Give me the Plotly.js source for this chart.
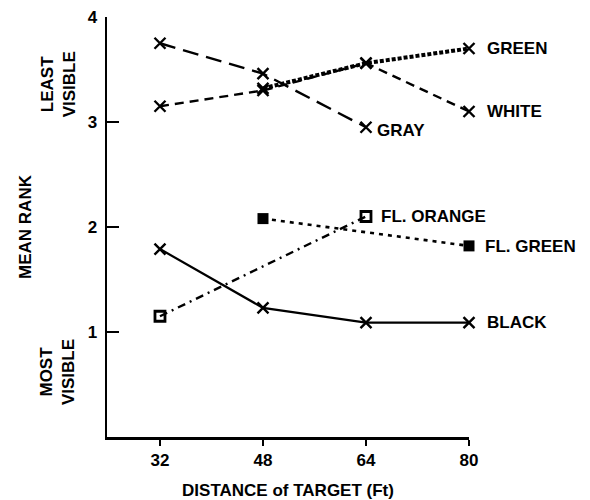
<!DOCTYPE html>
<html><head><meta charset="utf-8">
<script src="https://cdn.plot.ly/plotly-3.0.1.min.js"></script>
<style>html,body{margin:0;padding:0;background:#fff}</style>
</head><body>
<div id="chart" style="width:590px;height:500px"></div>
<script>
const distances = [32, 48, 64, 80];
const grayX = [32, 48, 64];
const grayY = [3.75, 3.46, 2.95];
const whiteX = [32, 48, 64, 80];
const whiteY = [3.15, 3.30, 3.56, 3.10];
const greenX = [48, 64, 80];
const greenY = [3.32, 3.56, 3.70];
const blackX = [32, 48, 64, 80];
const blackY = [1.79, 1.23, 1.09, 1.09];
const orangeX = [32, 64];
const orangeY = [1.15, 2.10];
const flGreenX = [48, 80];
const flGreenY = [2.08, 1.82];
const yTicks = [1, 2, 3, 4];
const labels = [
  {text: 'GREEN', x: 80, y: 3.70, dx: 16, dy: 0},
  {text: 'WHITE', x: 80, y: 3.10, dx: 16, dy: 0},
  {text: 'GRAY', x: 64, y: 2.95, dx: 9, dy: -3},
  {text: 'FL. ORANGE', x: 64, y: 2.10, dx: 13, dy: 0},
  {text: 'FL. GREEN', x: 80, y: 1.82, dx: 14, dy: -1},
  {text: 'BLACK', x: 80, y: 1.09, dx: 16, dy: 0}
];

const FONT = 'Liberation Sans, Arial, sans-serif';
const TXT = {family: FONT, size: 17, color: '#000', weight: 'bold'};
const xMarker = {symbol: 'x-thin-open', size: 11, color: '#000', line: {width: 2.4, color: '#000'}};

const traces = [
  {x: greenX, y: greenY, mode: 'lines', line: {color: '#000', width: 4, dash: '4px,2px'}, name: 'GREEN'},
  {x: greenX, y: greenY, mode: 'markers', marker: xMarker, name: 'GREEN pts'},
  {x: grayX, y: grayY, mode: 'lines+markers', line: {color: '#000', width: 2.4, dash: '16px,8px'}, marker: xMarker, name: 'GRAY'},
  {x: whiteX, y: whiteY, mode: 'lines+markers', line: {color: '#000', width: 2.4, dash: '9px,6px'}, marker: xMarker, name: 'WHITE'},
  {x: blackX, y: blackY, mode: 'lines+markers', line: {color: '#000', width: 2.2}, marker: xMarker, name: 'BLACK'},
  {x: orangeX, y: orangeY, mode: 'lines+markers', line: {color: '#000', width: 2.4, dash: '8px,5px,2px,5px'},
   marker: {symbol: 'square-open', size: 10, color: '#000', line: {width: 2.8, color: '#000'}}, name: 'FL. ORANGE'},
  {x: flGreenX, y: flGreenY, mode: 'lines+markers', line: {color: '#000', width: 2.6, dash: '4px,5px'},
   marker: {symbol: 'square', size: 11, color: '#000'}, name: 'FL. GREEN'}
];
traces.forEach(t => { t.cliponaxis = false; t.showlegend = false; t.hoverinfo = 'skip'; });

const annotations = labels.map(l => ({
  x: l.x, y: l.y, xref: 'x', yref: 'y', text: l.text, showarrow: false,
  xanchor: 'left', yanchor: 'middle', xshift: l.dx, yshift: l.dy,
  font: TXT
}));
annotations.push({
  xref: 'paper', yref: 'paper', x: -0.135, y: 0.84, text: 'LEAST<br>VISIBLE', showarrow: false,
  textangle: -90, align: 'center', xanchor: 'center', yanchor: 'middle', font: TXT
});
annotations.push({
  xref: 'paper', yref: 'paper', x: -0.135, y: 0.155, text: 'MOST<br>VISIBLE', showarrow: false,
  textangle: -90, align: 'center', xanchor: 'center', yanchor: 'middle', font: TXT
});

const layout = {
  width: 590, height: 500,
  margin: {l: 107, r: 121, t: 17, b: 63},
  paper_bgcolor: '#fff', plot_bgcolor: '#fff',
  font: {family: FONT, color: '#000'},
  showlegend: false,
  xaxis: {
    range: [23.77, 80], tickvals: distances, ticktext: distances.map(String),
    showgrid: false, zeroline: false, showline: true, linecolor: '#000', linewidth: 2.5,
    ticks: 'outside', ticklen: 6, tickwidth: 2, tickcolor: '#000',
    tickfont: {family: FONT, size: 17, color: '#000', weight: 'bold'},
    title: {text: 'DISTANCE of TARGET (Ft)', standoff: 16, font: TXT}
  },
  yaxis: {
    range: [0, 4], tickvals: yTicks, ticktext: yTicks.map(String),
    showgrid: false, zeroline: false, showline: true, linecolor: '#000', linewidth: 2.5,
    ticks: 'inside', ticklen: 12, tickwidth: 2, tickcolor: '#000', ticklabelstandoff: 4,
    tickfont: {family: FONT, size: 17, color: '#000', weight: 'bold'},
    title: {text: 'MEAN RANK', standoff: 52, font: TXT}
  },
  annotations: annotations
};

Plotly.newPlot('chart', traces, layout, {displayModeBar: false, staticPlot: true});
</script>
</body></html>
